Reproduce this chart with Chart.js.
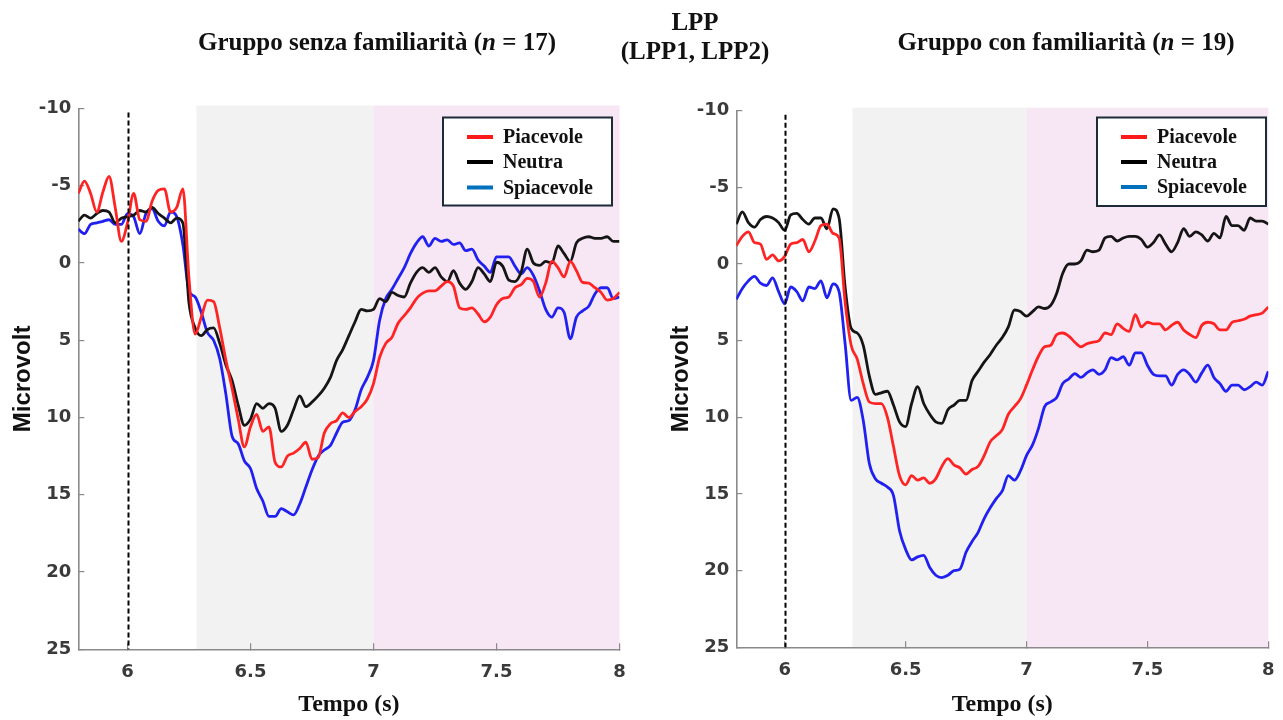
<!DOCTYPE html>
<html><head><meta charset="utf-8">
<script src="https://cdn.jsdelivr.net/npm/chart.js@4.4.1/dist/chart.umd.min.js"></script>
<style>
html,body{margin:0;padding:0;background:#fff;width:1283px;height:720px;overflow:hidden;position:relative;}
#c1{position:absolute;left:0;top:0;width:660px;height:720px;}
#c2{position:absolute;left:660px;top:0;width:660px;height:720px;}
.t{position:absolute;font-family:"Liberation Serif","Times New Roman",serif;font-weight:bold;font-size:25px;color:#111;white-space:nowrap;transform:translateX(-50%);line-height:25px;z-index:2;}
</style></head><body>
<div class="t" style="left:377px;top:29px">Gruppo senza familiarità (<i>n</i> = 17)</div>
<div class="t" style="left:695px;top:9px">LPP</div>
<div class="t" style="left:695px;top:38px">(LPP1, LPP2)</div>
<div class="t" style="left:1066px;top:29px">Gruppo con familiarità (<i>n</i> = 19)</div>
<canvas id="c1" width="660" height="720"></canvas>
<canvas id="c2" width="660" height="720"></canvas>
<script>
// ---- data ----
const times = [5.8,5.825,5.85,5.875,5.9,5.925,5.95,5.975,6.0,6.025,6.05,6.075,6.1,6.125,6.15,6.175,6.2,6.225,
6.25,6.275,6.3,6.325,6.35,6.375,6.4,6.425,6.45,6.475,6.5,6.525,6.55,6.575,6.6,6.625,6.65,6.675,6.7,6.725,
6.75,6.775,6.8,6.825,6.85,6.875,6.9,6.925,6.95,6.975,7.0,7.025,7.05,7.075,7.1,7.125,7.15,7.175,7.2,7.225,
7.25,7.275,7.3,7.325,7.35,7.375,7.4,7.425,7.45,7.475,7.5,7.525,7.55,7.575,7.6,7.625,7.65,7.675,7.7,7.725,
7.75,7.775,7.8,7.825,7.85,7.875,7.9,7.925,7.95,7.975,8.0];

const seriesNames = ['Piacevole','Neutra','Spiacevole'];
const xTickValues = [6, 6.5, 7, 7.5, 8];
const yTickValues = [-10, -5, 0, 5, 10, 15, 20, 25];
const grayWindow = [6.28, 7];
const pinkWindow = [7, 8];
const onsetTime = 6;

// Gruppo senza familiarità
const senzaPiacevole = [-4.5,-5.3,-4.5,-3.3,-4.6,-5.6,-3.6,-1.4,-2.6,-4.5,-2.8,-2.7,-4.0,-4.7,-4.8,-3.3,-3.6,-4.8,
1.0,4.6,3.5,2.4,2.5,4.2,6.3,8.1,10.1,11.9,
10.6,9.8,10.9,10.6,12.9,13.2,12.5,12.3,12.0,11.6,
12.7,12.6,11.0,10.4,10.2,9.7,10.0,9.6,9.3,8.8,
7.8,6.1,5.2,4.8,3.9,3.4,2.9,2.3,1.95,1.8,
1.8,1.5,1.2,1.5,2.9,3.0,2.9,3.3,3.8,3.5,
2.7,2.3,2.2,1.6,1.4,1.0,1.2,2.2,1.3,-0.1,
0.3,0.9,-0.1,0.5,1.25,1.3,1.6,1.9,2.4,2.3,1.9];
const senzaNeutra = [-2.7,-3.1,-2.9,-3.2,-3.4,-3.3,-2.6,-2.9,-3.0,-3.1,-3.4,-3.3,-3.6,-3.2,-2.9,-2.6,-2.9,-2.6,
2.6,4.2,4.7,4.3,4.2,5.2,6.6,7.6,9.2,10.5,
10.1,9.1,9.4,9.1,9.4,10.9,10.5,9.5,8.6,9.3,
9.0,8.6,8.1,7.4,6.3,5.6,4.7,3.8,3.0,3.1,
3.0,2.3,2.5,1.9,2.1,2.2,1.3,0.6,0.3,0.6,
0.3,0.9,1.2,0.5,1.3,1.7,1.2,0.3,0.7,1.2,
-0.05,0.2,1.1,1.2,0.6,-0.9,0.0,0.15,-0.1,0.0,
-1.1,-0.6,-0.1,-1.3,-1.6,-1.7,-1.6,-1.6,-1.7,-1.4,-1.4];
const senzaSpiacevole = [-2.2,-1.9,-2.5,-2.6,-2.7,-2.8,-2.5,-2.5,-3.2,-3.0,-1.9,-3.2,-3.5,-2.7,-2.4,-3.3,-3.0,-1.2,
1.8,2.2,3.2,4.5,5.0,6.2,8.5,11.2,11.7,12.8,
13.3,14.6,15.4,16.4,16.4,15.9,16.1,16.3,15.6,14.5,
13.4,12.5,12.1,11.8,11.0,10.3,10.2,9.5,8.2,7.4,
6.3,3.7,2.3,1.7,1.0,0.3,-0.6,-1.3,-1.7,-1.1,
-1.6,-1.4,-1.5,-1.2,-1.3,-0.8,-0.9,-0.2,0.2,0.6,
-0.4,-0.4,-0.4,0.2,0.7,0.3,0.8,1.8,3.0,3.5,
2.9,3.2,4.9,3.5,3.1,2.8,2.0,1.6,1.6,2.3,2.2];

// Gruppo con familiarità
const conPiacevole = [-1.2,-1.8,-2.1,-1.4,-1.3,-0.3,-0.6,-0.2,-0.5,-1.3,-1.4,-1.6,-0.8,-1.5,-2.5,-2.6,-2.0,-1.7,
2.5,5.3,6.2,7.8,9.0,9.1,9.1,10.0,11.9,13.8,
14.4,13.8,14.1,13.95,14.3,14.0,13.2,12.7,13.1,13.3,
13.7,13.4,13.2,12.5,11.6,11.2,10.8,9.8,9.3,8.8,
7.9,6.9,6.0,5.4,5.3,4.6,4.5,4.7,5.1,5.4,
5.2,5.1,5.0,4.5,4.6,3.9,4.2,4.4,3.3,4.1,
3.8,3.9,3.9,4.3,4.0,3.8,4.3,4.6,4.8,4.0,
3.8,3.9,4.3,4.3,3.8,3.7,3.6,3.4,3.3,3.2,2.8];
const conNeutra = [-2.6,-3.4,-2.7,-2.4,-2.9,-3.1,-3.0,-2.7,-2.2,-3.2,-3.3,-2.9,-2.6,-3.0,-3.0,-2.3,-3.6,-3.0,
1.5,4.2,4.5,5.3,7.3,8.5,8.4,8.3,9.2,10.3,
10.6,9.1,8.0,9.1,9.8,10.3,10.4,9.5,9.2,8.9,
8.9,7.6,7.0,6.4,5.9,5.3,4.8,4.1,3.0,3.1,
3.4,3.1,2.8,2.9,2.7,1.9,0.6,0.0,0.0,-0.2,
-0.9,-0.8,-0.9,-1.7,-1.8,-1.5,-1.7,-1.8,-1.8,-1.6,
-1.1,-1.4,-1.9,-1.3,-0.8,-1.4,-2.3,-1.8,-2.1,-1.9,
-1.5,-2.0,-1.7,-3.1,-2.5,-2.5,-2.2,-3.0,-2.8,-2.8,-2.6];
const conSpiacevole = [2.3,1.6,1.1,0.8,1.25,1.4,0.9,1.8,2.6,1.5,1.8,2.4,1.5,1.6,1.1,2.2,1.3,1.8,
5.2,8.9,8.7,10.2,13.0,14.0,14.3,14.55,15.1,17.4,
18.6,19.3,19.1,19.0,19.8,20.3,20.45,20.3,20.0,19.9,
18.8,18.1,17.5,16.6,15.9,15.3,14.8,13.8,14.1,13.5,
12.5,11.8,10.7,9.3,9.0,8.7,7.8,7.5,7.15,7.4,
7.1,6.9,7.2,6.9,6.1,6.25,6.05,6.6,5.8,5.8,
6.6,7.2,7.3,7.3,7.9,7.2,6.9,7.2,7.7,7.1,
6.6,7.4,7.8,8.3,7.9,7.9,8.2,8.0,7.7,7.9,7.0];

// ---- styles ----
const lineColors = ['#FF2424', '#151515', '#2020F0'];
const legendColors = ['#FF1A1A', '#000000', '#0072BD'];

const bandsPlugin = {
  id: 'bands',
  beforeDraw(chart, args, opts) {
    const {ctx, chartArea: a, scales: {x}} = chart;
    ctx.save();
    opts.bands.forEach(b => {
      const x0 = x.getPixelForValue(b.range[0]);
      const x1 = x.getPixelForValue(b.range[1]);
      ctx.fillStyle = b.color;
      ctx.fillRect(x0, a.top - opts.extendTop, x1 - x0, a.bottom - a.top + opts.extendTop);
    });
    ctx.restore();
  }
};

const overlayPlugin = {
  id: 'overlay',
  afterDatasetsDraw(chart, args, opts) {
    const {ctx, chartArea: a, scales: {x}} = chart;
    const px = Math.round(x.getPixelForValue(opts.marker)) + 0.5;
    ctx.save();
    ctx.strokeStyle = '#000';
    ctx.lineWidth = 2;
    ctx.setLineDash([5, 3]);
    ctx.beginPath();
    ctx.moveTo(px, a.top + opts.markerTop);
    ctx.lineTo(px, a.bottom);
    ctx.stroke();
    ctx.restore();
  },
  afterDraw(chart, args, opts) {
    const {ctx} = chart;
    const b = opts.box;
    ctx.save();
    ctx.fillStyle = '#fff';
    ctx.fillRect(b.x, b.y, b.w, b.h);
    ctx.strokeStyle = '#1c2b38';
    ctx.lineWidth = 2;
    ctx.strokeRect(b.x, b.y, b.w, b.h);
    ctx.font = 'bold 20px "Liberation Serif", "Times New Roman", serif';
    ctx.textBaseline = 'middle';
    ctx.textAlign = 'left';
    chart.data.datasets.forEach((ds, i) => {
      const y = b.y + b.rows[i];
      ctx.strokeStyle = ds.legendColor;
      ctx.lineWidth = 4;
      ctx.beginPath();
      ctx.moveTo(b.x + 24, y);
      ctx.lineTo(b.x + 50, y);
      ctx.stroke();
      ctx.fillStyle = '#111';
      ctx.fillText(ds.label, b.x + 60, y + 1);
    });
    ctx.restore();
  }
};

function makeChart(id, values, g) {
  return new Chart(document.getElementById(id), {
    type: 'line',
    data: {
      datasets: seriesNames.map((name, i) => ({
        label: name,
        data: times.map((t, j) => ({x: t, y: values[i][j]})),
        borderColor: lineColors[i],
        legendColor: legendColors[i],
        borderWidth: 2.8,
        pointRadius: 0,
        cubicInterpolationMode: 'monotone',
        fill: false
      }))
    },
    options: {
      responsive: false,
      animation: false,
      events: [],
      layout: {padding: {left: 0, top: g.top, right: g.right, bottom: 0}},
      plugins: {
        legend: {display: false},
        tooltip: {enabled: false},
        bands: {extendTop: 3, bands: [
          {range: grayWindow, color: '#F2F2F2'},
          {range: pinkWindow, color: '#F7E6F4'}
        ]},
        overlay: {marker: onsetTime, markerTop: 4, box: g.box}
      },
      scales: {
        x: {
          type: 'linear', min: 5.8, max: 8,
          afterBuildTicks: s => { s.ticks = xTickValues.map(v => ({value: v})); },
          afterFit: s => { s.height = g.xh; },
          ticks: {
            callback: v => String(v), color: '#3a3a3a', padding: 18, maxRotation: 0, autoSkip: false,
            font: {family: '"DejaVu Sans", sans-serif', weight: 'bold', size: 18}
          },
          grid: {drawOnChartArea: false, drawTicks: true, tickLength: -6, color: '#8a8a8a', lineWidth: 1.2},
          border: {display: true, color: '#8a8a8a', width: 1.6},
          title: {
            display: true, text: 'Tempo (s)', color: '#111', padding: {top: 0, bottom: 3},
            font: {family: '"Liberation Serif", "Times New Roman", serif', weight: 'bold', size: 24, lineHeight: 1}
          }
        },
        y: {
          type: 'linear', reverse: true, min: -10, max: 25,
          afterBuildTicks: s => { s.ticks = yTickValues.map(v => ({value: v})); },
          afterFit: s => { s.width = g.yw; },
          ticks: {
            callback: v => String(v), color: '#3a3a3a', padding: 13,
            font: {family: '"DejaVu Sans", sans-serif', weight: 'bold', size: 18}
          },
          grid: {drawOnChartArea: false, drawTicks: true, tickLength: -6, color: '#8a8a8a', lineWidth: 1.2},
          border: {display: true, color: '#8a8a8a', width: 1.6},
          title: {
            display: true, text: 'Microvolt', color: '#111', padding: {top: g.ytPad, bottom: 0},
            font: {family: '"Liberation Sans", Arial, sans-serif', weight: 'bold', size: 24, lineHeight: 1}
          }
        }
      }
    },
    plugins: [bandsPlugin, overlayPlugin]
  });
}

makeChart('c1', [senzaPiacevole, senzaNeutra, senzaSpiacevole], {
  top: 108.5, right: 660 - 619.5, xh: 720 - 649.3, yw: 78.3, ytPad: 11.5,
  box: {x: 443, y: 117.5, w: 169, h: 88, rows: [19.5, 44.5, 70]}
});
makeChart('c2', [conPiacevole, conNeutra, conSpiacevole], {
  top: 110.7, right: 660 - 608.3, xh: 720 - 647.3, yw: 76.3, ytPad: 9.5,
  box: {x: 437, y: 117.5, w: 169, h: 88.5, rows: [19.5, 44.5, 69.5]}
});
</script>
</body></html>
